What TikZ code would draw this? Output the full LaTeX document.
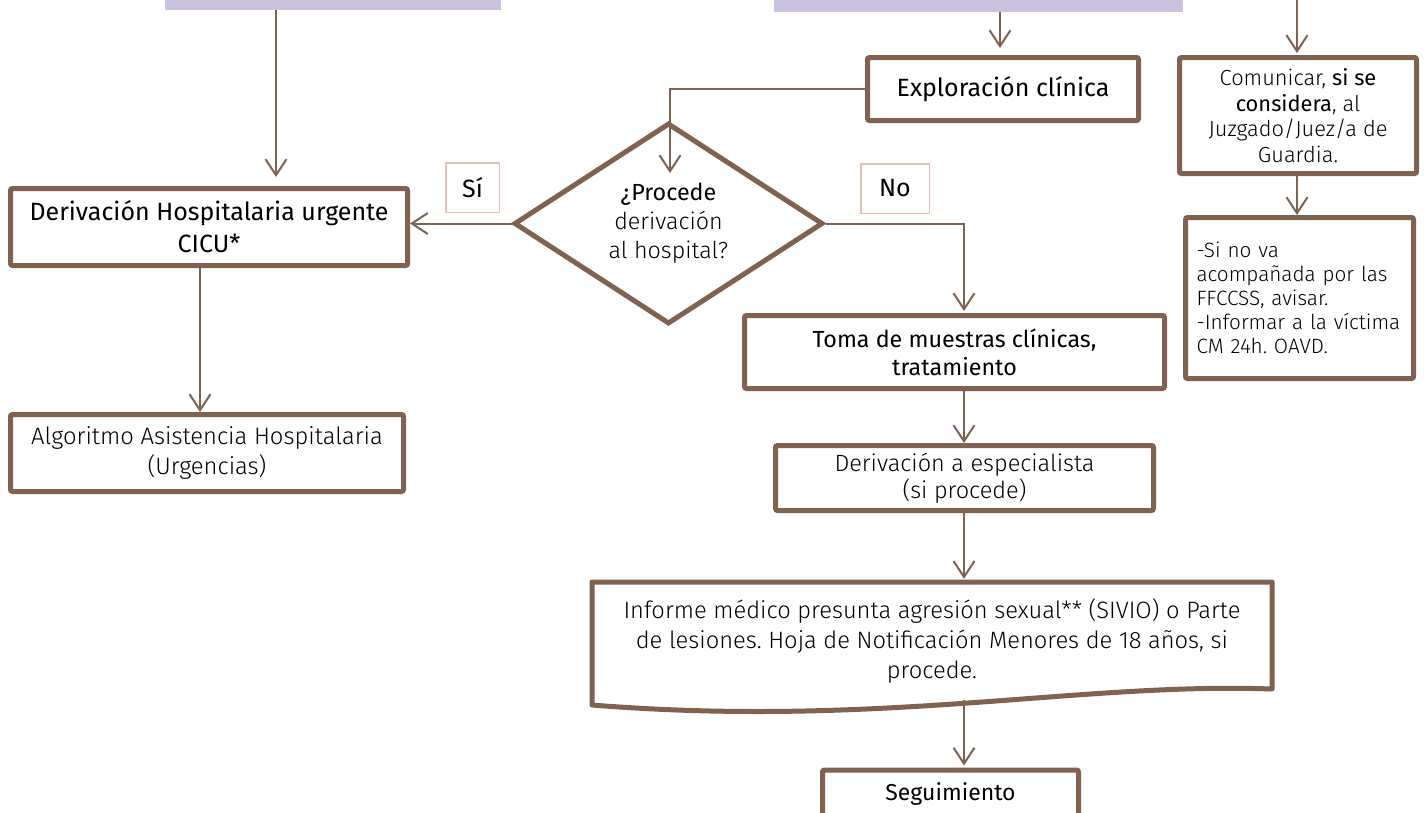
\documentclass[tikz,border=0pt]{standalone}
\usepackage{fontspec}
\setmainfont{Fira Sans}
\newfontfamily\lt{Fira Sans Light}
\usetikzlibrary{arrows.meta,shapes.geometric}
\definecolor{brn}{RGB}{127,99,80}
\definecolor{lav}{RGB}{203,195,221}
\definecolor{pnk}{RGB}{230,190,185}
\newcommand\fs[2]{\fontsize{#1}{#2}\selectfont}
\frenchspacing
\begin{document}
\begin{tikzpicture}[x=1pt,y=-1pt,
  bar/.style={fill=lav, inner sep=0pt},
  box/.style={draw=brn, line width=5pt, fill=white, rounded corners=2pt, inner sep=0pt, align=center},
  lab/.style={draw=pnk, line width=1.5pt, fill=white, inner sep=0pt, font=\fs{25}{28}},
  conn/.style={draw=brn, line width=2pt, -{Straight Barb[length=16pt,width=21pt]}}]
\useasboundingbox (0,0) rectangle (1427,812);
\fill[white] (0,0) rectangle (1427,812);
% top bars
\node[bar, minimum width=336pt, minimum height=30pt] (bar1) at (333,-5) {};
\node[bar, minimum width=409pt, minimum height=32pt] (bar2) at (978.5,-4) {};
\coordinate (x276) at (276,0);
\coordinate (x1000) at (1000,0);
\coordinate (x964) at (964,0);
\coordinate (x200) at (200,0);
\coordinate (rtop) at (1297,-5);
\coordinate (ptip) at (670,173);
% boxes
\node[box, minimum width=397pt, minimum height=77pt, font=\fs{25}{32}] (hosp) at (209,227) {Derivación Hospitalaria urgente\\CICU*};
\node[box, minimum width=393pt, minimum height=77pt, font=\lt\fs{23.8}{30}] (alg) at (207,453) {Algoritmo Asistencia Hospitalaria\\(Urgencias)};
\node[box, minimum width=271pt, minimum height=63pt, font=\fs{25}{30}] (expl) at (1003,89) {Exploración clínica};
\node[diamond, shape aspect=1.5, draw=brn, line width=5pt, fill=white, minimum width=309pt, minimum height=201pt, inner sep=0pt, align=center, font=\fs{23.3}{29}] (dia) at (668.5,223.5) {¿Procede\\{\lt derivación}\\{\lt al hospital?}};
\node[lab, minimum width=53.5pt, minimum height=49.5pt] (si) at (472.5,187.5) {Sí};
\node[lab, minimum width=68.5pt, minimum height=49.5pt] (no) at (895,188.5) {No};
\node[box, minimum width=420pt, minimum height=73pt, font=\fs{23.3}{28}] (toma) at (954.5,352) {Toma de muestras clínicas,\\tratamiento};
\node[box, minimum width=378pt, minimum height=65pt, font=\lt\fs{23.5}{27}] (esp) at (964.5,478) {Derivación a especialista\\(si procede)};
\draw[brn, line width=5pt, fill=white, line join=round] (592,582) -- (1272,582) -- (1272,689) .. controls (1080,682) and (880,728) .. (592,705) -- cycle;
\node[inner sep=0pt, minimum width=680pt, minimum height=118pt, align=center, font=\lt\fs{23.7}{30}] (doc) at (932,641) {Informe médico presunta agresión sexual** (SIVIO) o Parte\\de lesiones. Hoja de Notificación Menores de 18 años, si\\procede.};
\node[box, minimum width=256pt, minimum height=48pt, font=\fs{23}{28}] (seg) at (950.5,794) {Seguimiento};
\node[box, minimum width=237pt, minimum height=116pt, font=\lt\fs{21.8}{25.7}] (com) at (1298,115.5) {Comunicar, {\rmfamily si se}\\{\rmfamily considera}, al\\Juzgado/Juez/a de\\Guardia.};
\node[box, minimum width=228pt, minimum height=161pt, text width=206pt, align=left, font=\lt\fs{20.7}{24}] (inf) at (1299.5,298) {-Si no va\\acompañada por las\\FFCCSS, avisar.\\-Informar a la víctima\\CM 24h. OAVD.};
% connectors
\draw[conn, shorten >=9pt] (bar1.south -| x276) -- (hosp.north -| x276);
\draw[conn, shorten >=7pt] (bar2.south -| x1000) -- (expl.north -| x1000);
\draw[conn] (expl.west) -| (ptip);
\draw[conn] (dia.west) -- (dia.west -| hosp.east);
\draw[conn, shorten >=2pt] (dia.east) -| (toma.north -| x964);
\draw[conn] (toma.south -| x964) -- (esp.north -| x964);
\draw[conn, shorten >=3pt] (esp.south -| x964) -- (doc.north -| x964);
\draw[conn, shorten >=2pt] (doc.south -| x964) -- (seg.north -| x964);
\draw[conn] (hosp.south -| x200) -- (alg.north -| x200);
\draw[conn, shorten >=2pt] (rtop) -- (com.north -| rtop);
\draw[conn] (com.south -| rtop) -- (inf.north -| rtop);
\end{tikzpicture}
\end{document}
